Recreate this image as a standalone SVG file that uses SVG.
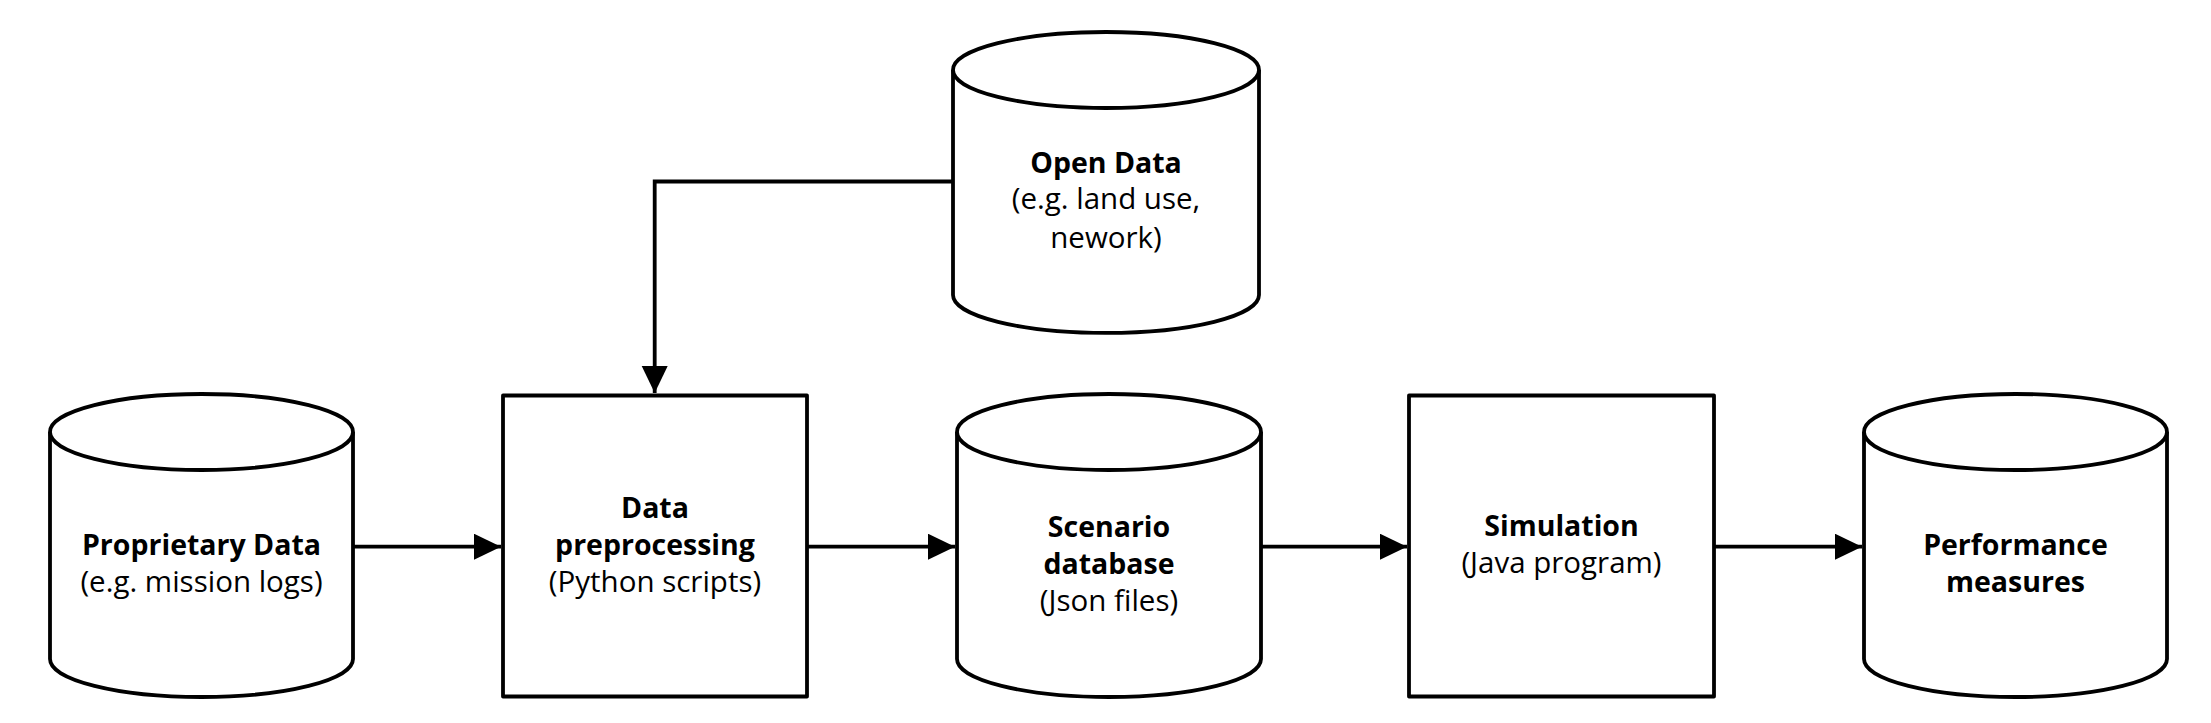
<svg xmlns="http://www.w3.org/2000/svg" width="2211" height="723" viewBox="0 0 2211 723">
<defs>
<style>
.shape{fill:#fff;stroke:#000;stroke-width:3.8;stroke-linejoin:round}
.edge{fill:none;stroke:#000;stroke-width:3.8}
.t{font-family:"Open Sans","Liberation Sans",sans-serif;font-size:29.5px;fill:#000;text-anchor:middle}
.b{font-weight:bold;font-size:28.5px}
</style>
<marker id="arr" markerUnits="userSpaceOnUse" markerWidth="28" markerHeight="27" refX="27" refY="13" orient="auto">
<path d="M0,0 L27,13 L0,26 z" fill="#000"/>
</marker>
</defs>
<rect width="2211" height="723" fill="#fff"/>
<g id="connectors">
<path class="edge" d="M353,546.7 H501" marker-end="url(#arr)"/>
<path class="edge" d="M807,546.7 H955" marker-end="url(#arr)"/>
<path class="edge" d="M1261,546.7 H1407" marker-end="url(#arr)"/>
<path class="edge" d="M1714,546.7 H1862" marker-end="url(#arr)"/>
<path class="edge" d="M953,181.5 H654.7 V393" marker-end="url(#arr)"/>
</g>
<g id="proprietary-data">
<path class="shape" d="M50,432 V659 A151.5,38 0 0 0 353,659 V432"/>
<ellipse class="shape" cx="201.5" cy="432" rx="151.5" ry="38"/>
<text class="t b" x="201.5" y="555">Proprietary Data</text>
<text class="t" x="201.5" y="592">(e.g. mission logs)</text>
</g>
<g id="data-preprocessing">
<rect class="shape" x="503" y="395.5" width="304" height="301"/>
<text class="t b" x="655" y="518">Data</text>
<text class="t b" x="655" y="555">preprocessing</text>
<text class="t" x="655" y="592">(Python scripts)</text>
</g>
<g id="open-data">
<path class="shape" d="M953,70 V295 A153,38 0 0 0 1259,295 V70"/>
<ellipse class="shape" cx="1106" cy="70" rx="153" ry="38"/>
<text class="t b" x="1106" y="173">Open Data</text>
<text class="t" x="1106" y="209">(e.g. land use,</text>
<text class="t" x="1106" y="248">nework)</text>
</g>
<g id="scenario-database">
<path class="shape" d="M957,432 V659 A152,38 0 0 0 1261,659 V432"/>
<ellipse class="shape" cx="1109" cy="432" rx="152" ry="38"/>
<text class="t b" x="1109" y="537">Scenario</text>
<text class="t b" x="1109" y="574">database</text>
<text class="t" x="1109" y="611">(Json files)</text>
</g>
<g id="simulation">
<rect class="shape" x="1409" y="395.5" width="305" height="301"/>
<text class="t b" x="1561.5" y="536">Simulation</text>
<text class="t" x="1561.5" y="573">(Java program)</text>
</g>
<g id="performance-measures">
<path class="shape" d="M1864,432 V659 A151.5,38 0 0 0 2167,659 V432"/>
<ellipse class="shape" cx="2015.5" cy="432" rx="151.5" ry="38"/>
<text class="t b" x="2015.5" y="555">Performance</text>
<text class="t b" x="2015.5" y="592">measures</text>
</g>
</svg>
